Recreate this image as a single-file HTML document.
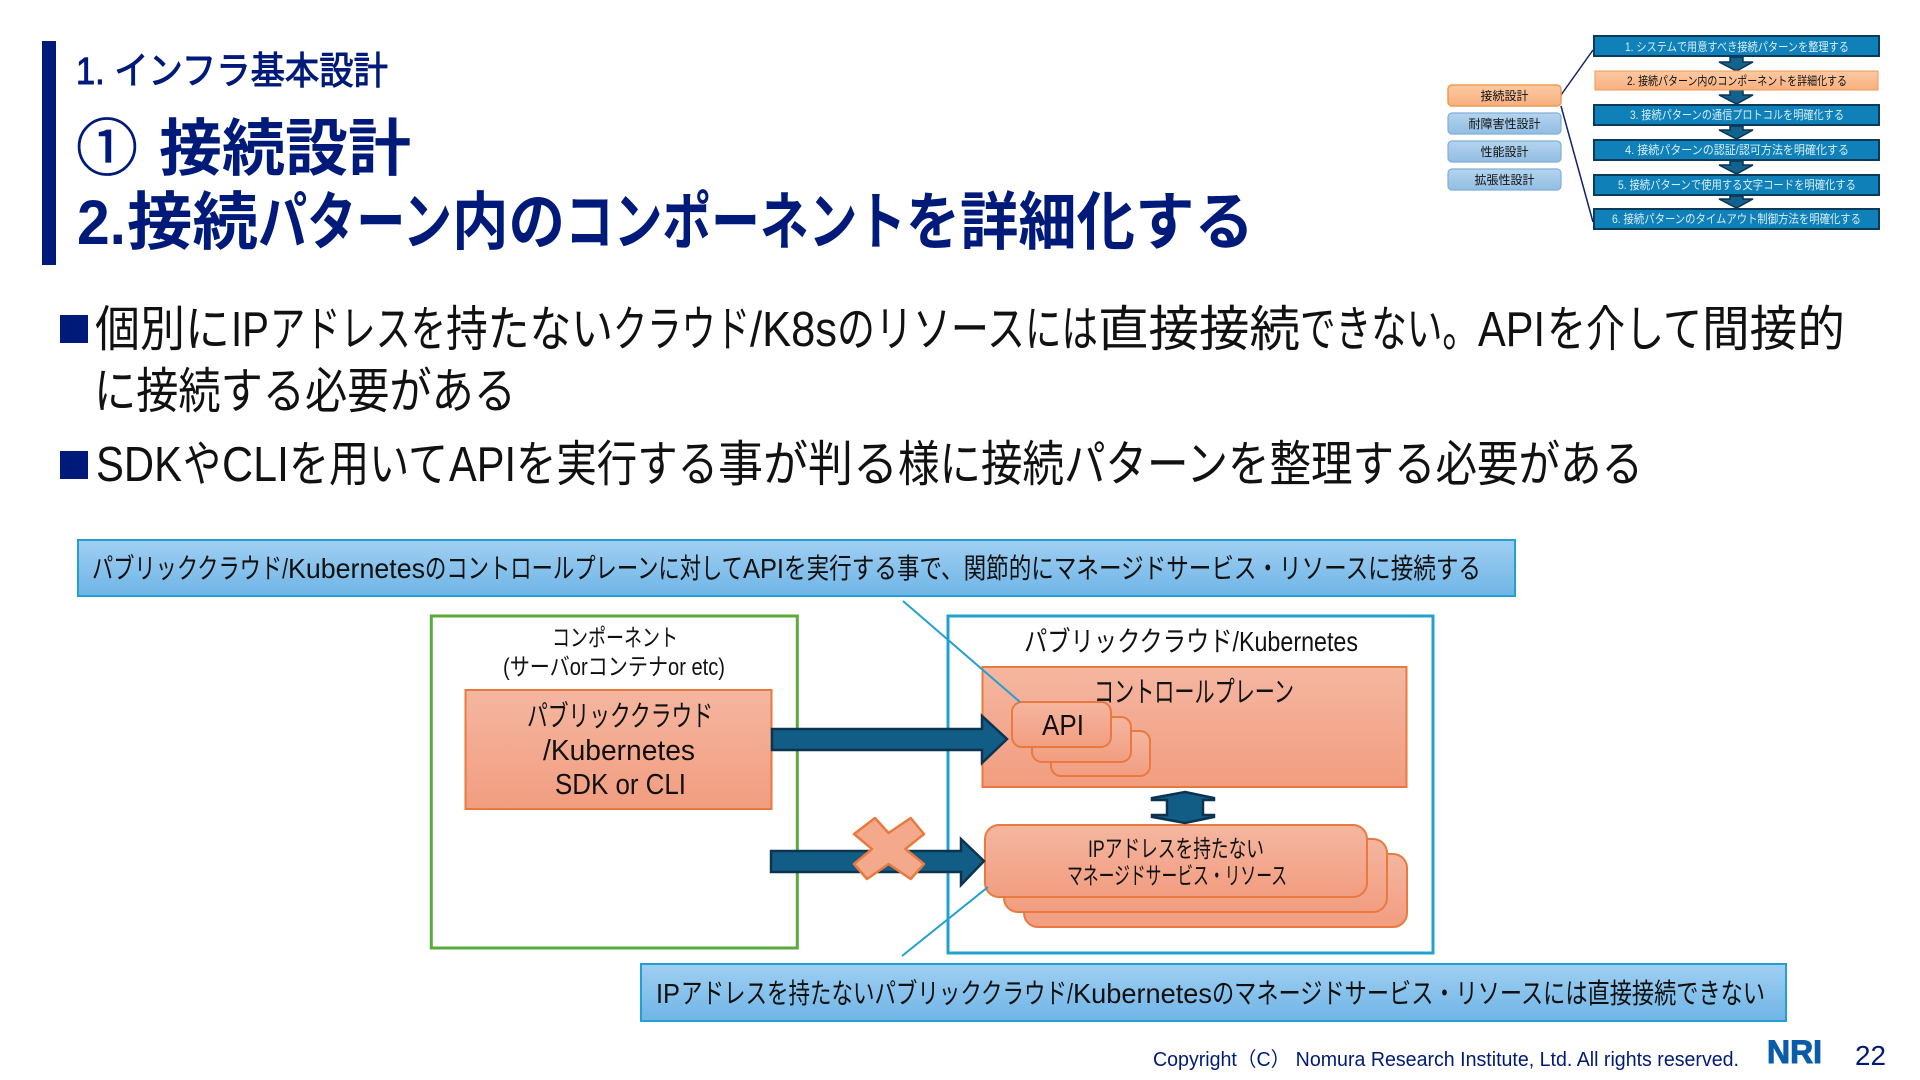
<!DOCTYPE html>
<html lang="ja"><head><meta charset="utf-8"><title>接続設計</title>
<style>
html,body{margin:0;padding:0;background:#fff;width:1920px;height:1080px;overflow:hidden}
svg{display:block}
text{font-family:"Liberation Sans","Noto Sans CJK JP",sans-serif;fill:#111}
.n{fill:#001a7a}
.w{fill:#d8eef8}
.t3{font-size:63px;font-weight:700;fill:#001a7a}
.bd{font-size:49px}
.cl{font-size:28px}
</style></head><body>
<svg width="1920" height="1080" viewBox="0 0 1920 1080" xmlns="http://www.w3.org/2000/svg">
<defs>
<linearGradient id="o" x1="0" y1="0" x2="0" y2="1"><stop offset="0" stop-color="#f4b6a0"/><stop offset="1" stop-color="#f29d80"/></linearGradient>
<linearGradient id="b" x1="0" y1="0" x2="0" y2="1"><stop offset="0" stop-color="#a0cff2"/><stop offset="1" stop-color="#6fb5e6"/></linearGradient>
<linearGradient id="lb" x1="0" y1="0" x2="0" y2="1"><stop offset="0" stop-color="#b4d4ee"/><stop offset="1" stop-color="#92bde2"/></linearGradient>
<linearGradient id="lo" x1="0" y1="0" x2="0" y2="1"><stop offset="0" stop-color="#fbc9a2"/><stop offset="1" stop-color="#f8b080"/></linearGradient>
</defs>

<!-- header -->
<rect x="42" y="41" width="14" height="224" fill="#001a7a"/>
<text class="n" x="76" y="84" font-size="38" textLength="312" lengthAdjust="spacingAndGlyphs" stroke="#001a7a" stroke-width="1">1. インフラ基本設計</text>
<text class="n" x="76" y="170" font-size="62" textLength="62" lengthAdjust="spacingAndGlyphs" stroke="#001a7a" stroke-width=".8">①</text>
<text class="n" x="159" y="170" font-size="62" font-weight="700" textLength="252" lengthAdjust="spacingAndGlyphs">接続設計</text>
<text class="t3" x="77" y="244" textLength="49" lengthAdjust="spacingAndGlyphs">2.</text>
<text class="t3" x="127" y="244" textLength="131" lengthAdjust="spacingAndGlyphs">接続</text>
<text class="t3" x="258" y="244" textLength="194" lengthAdjust="spacingAndGlyphs">パターン</text>
<text class="t3" x="452" y="244" textLength="113" lengthAdjust="spacingAndGlyphs">内の</text>
<text class="t3" x="565" y="244" textLength="341" lengthAdjust="spacingAndGlyphs">コンポーネント</text>
<text class="t3" x="906" y="244" textLength="54" lengthAdjust="spacingAndGlyphs">を</text>
<text class="t3" x="960" y="244" textLength="175" lengthAdjust="spacingAndGlyphs">詳細化</text>
<text class="t3" x="1135" y="244" textLength="119" lengthAdjust="spacingAndGlyphs">する</text>

<!-- thumbnail -->
<g>
<line x1="1561" y1="95" x2="1593" y2="50" stroke="#14206e" stroke-width="1.5"/>
<line x1="1561" y1="106" x2="1593" y2="222" stroke="#14206e" stroke-width="1.5"/>
<rect x="1448" y="85" width="113" height="21" rx="4" fill="url(#lo)" stroke="#f09a50" stroke-width="1.5"/>
<rect x="1448" y="113" width="113" height="21" rx="4" fill="url(#lb)" stroke="#7fb0d8" stroke-width="1.2"/>
<rect x="1448" y="141" width="113" height="21" rx="4" fill="url(#lb)" stroke="#7fb0d8" stroke-width="1.2"/>
<rect x="1448" y="169" width="113" height="21" rx="4" fill="url(#lb)" stroke="#7fb0d8" stroke-width="1.2"/>
<text x="1504.5" y="100" font-size="12" text-anchor="middle">接続設計</text>
<text x="1504.5" y="128" font-size="12" text-anchor="middle">耐障害性設計</text>
<text x="1504.5" y="156" font-size="12" text-anchor="middle">性能設計</text>
<text x="1504.5" y="184" font-size="12" text-anchor="middle">拡張性設計</text>
<g fill="#12628e" stroke="#0b3352" stroke-width="1.5">
<polygon points="1730,57 1743,57 1743,62 1753,62 1736.5,71 1719,62 1730,62"/>
<polygon points="1730,90 1743,90 1743,95 1753,95 1736.5,104 1719,95 1730,95"/>
<polygon points="1730,126 1743,126 1743,130 1753,130 1736.5,139 1719,130 1730,130"/>
<polygon points="1730,161 1743,161 1743,165 1753,165 1736.5,174 1719,165 1730,165"/>
<polygon points="1730,196 1743,196 1743,199 1753,199 1736.5,208 1719,199 1730,199"/>
</g>
<g fill="#0f80b8" stroke="#0b3a5a" stroke-width="2">
<rect x="1594" y="36" width="285" height="20"/>
<rect x="1594" y="105" width="285" height="20"/>
<rect x="1594" y="140" width="285" height="20"/>
<rect x="1594" y="175" width="285" height="20"/>
<rect x="1594" y="209" width="285" height="20"/>
</g>
<rect x="1595" y="71" width="283" height="19" fill="url(#lo)" stroke="#f09a50" stroke-width="1"/>
<text class="w" x="1625" y="51" font-size="12" textLength="224" lengthAdjust="spacingAndGlyphs">1. システムで用意すべき接続パターンを整理する</text>
<text x="1627" y="85" font-size="12" textLength="220" lengthAdjust="spacingAndGlyphs">2. 接続パターン内のコンポーネントを詳細化する</text>
<text class="w" x="1630" y="119" font-size="12" textLength="214" lengthAdjust="spacingAndGlyphs">3. 接続パターンの通信プロトコルを明確化する</text>
<text class="w" x="1625" y="154" font-size="12" textLength="224" lengthAdjust="spacingAndGlyphs">4. 接続パターンの認証/認可方法を明確化する</text>
<text class="w" x="1618" y="189" font-size="12" textLength="238" lengthAdjust="spacingAndGlyphs">5. 接続パターンで使用する文字コードを明確化する</text>
<text class="w" x="1612" y="223" font-size="12" textLength="249" lengthAdjust="spacingAndGlyphs">6. 接続パターンのタイムアウト制御方法を明確化する</text>
</g>

<!-- body -->
<rect x="60" y="315" width="28" height="28" fill="#001a7a"/>
<rect x="60" y="451" width="28" height="28" fill="#001a7a"/>
<g class="bd">
<text class="bd" x="95" y="346" textLength="135" lengthAdjust="spacingAndGlyphs">個別に</text>
<text class="bd" x="231" y="346" textLength="38" lengthAdjust="spacingAndGlyphs">IP</text>
<text class="bd" x="270" y="346" textLength="176" lengthAdjust="spacingAndGlyphs">アドレスを</text>
<text class="bd" x="446" y="346" textLength="167" lengthAdjust="spacingAndGlyphs">持たない</text>
<text class="bd" x="613" y="346" textLength="137" lengthAdjust="spacingAndGlyphs">クラウド</text>
<text class="bd" x="750" y="346" textLength="87" lengthAdjust="spacingAndGlyphs">/K8s</text>
<text class="bd" x="837" y="346" textLength="188" lengthAdjust="spacingAndGlyphs">のリソース</text>
<text class="bd" x="1025" y="346" textLength="73" lengthAdjust="spacingAndGlyphs">には</text>
<text class="bd" x="1098" y="346" textLength="202" lengthAdjust="spacingAndGlyphs">直接接続</text>
<text class="bd" x="1300" y="346" textLength="178" lengthAdjust="spacingAndGlyphs">できない。</text>
<text class="bd" x="1478" y="346" textLength="67" lengthAdjust="spacingAndGlyphs">API</text>
<text class="bd" x="1547" y="346" textLength="155" lengthAdjust="spacingAndGlyphs">を介して</text>
<text class="bd" x="1702" y="346" textLength="143" lengthAdjust="spacingAndGlyphs">間接的</text>
<text class="bd" x="94" y="408" textLength="422" lengthAdjust="spacingAndGlyphs">に接続する必要がある</text>
<text class="bd" x="96" y="481" textLength="86" lengthAdjust="spacingAndGlyphs">SDK</text>
<text class="bd" x="183" y="481" textLength="38" lengthAdjust="spacingAndGlyphs">や</text>
<text class="bd" x="222" y="481" textLength="67" lengthAdjust="spacingAndGlyphs">CLI</text>
<text class="bd" x="289" y="481" textLength="159" lengthAdjust="spacingAndGlyphs">を用いて</text>
<text class="bd" x="449" y="481" textLength="67" lengthAdjust="spacingAndGlyphs">API</text>
<text class="bd" x="516" y="481" textLength="202" lengthAdjust="spacingAndGlyphs">を実行する</text>
<text class="bd" x="718" y="481" textLength="180" lengthAdjust="spacingAndGlyphs">事が判る</text>
<text class="bd" x="898" y="481" textLength="745" lengthAdjust="spacingAndGlyphs">様に接続パターンを整理する必要がある</text>
</g>

<!-- top callout -->
<rect x="78" y="540" width="1437" height="56" fill="url(#b)" stroke="#22a0d0" stroke-width="2"/>
<text class="cl" x="92" y="578" textLength="196" lengthAdjust="spacingAndGlyphs">パブリッククラウド/</text>
<text class="cl" x="288" y="578" textLength="137" lengthAdjust="spacingAndGlyphs">Kubernetes</text>
<text class="cl" x="425" y="578" textLength="318" lengthAdjust="spacingAndGlyphs">のコントロールプレーンに対して</text>
<text class="cl" x="743" y="578" textLength="41" lengthAdjust="spacingAndGlyphs">API</text>
<text class="cl" x="784" y="578" textLength="697" lengthAdjust="spacingAndGlyphs">を実行する事で、関節的にマネージドサービス・リソースに接続する</text>

<!-- left box -->
<rect x="431.3" y="616" width="366" height="332" fill="#fff" stroke="#5aab3a" stroke-width="3"/>
<text x="615" y="646" font-size="24" text-anchor="middle" textLength="126" lengthAdjust="spacingAndGlyphs">コンポーネント</text>
<text x="503" y="675" font-size="24" textLength="222" lengthAdjust="spacingAndGlyphs">(サーバorコンテナor etc)</text>
<rect x="465.5" y="690" width="306" height="119" fill="url(#o)" stroke="#e97a3f" stroke-width="2"/>
<text x="527" y="726" font-size="29" textLength="186" lengthAdjust="spacingAndGlyphs">パブリッククラウド</text>
<text x="543" y="760" font-size="29" textLength="152" lengthAdjust="spacingAndGlyphs">/Kubernetes</text>
<text x="555" y="794" font-size="29" textLength="131" lengthAdjust="spacingAndGlyphs">SDK or CLI</text>

<!-- right box -->
<rect x="948" y="616" width="485" height="337" fill="#fff" stroke="#22a0d0" stroke-width="3"/>
<text x="1024" y="651" font-size="28" textLength="334" lengthAdjust="spacingAndGlyphs">パブリッククラウド/Kubernetes</text>
<rect x="982.5" y="667" width="424" height="120" fill="url(#o)" stroke="#e97a3f" stroke-width="2"/>
<text x="1094" y="702" font-size="29" textLength="200" lengthAdjust="spacingAndGlyphs">コントロールプレーン</text>
<g fill="url(#o)" stroke="#e97a3f" stroke-width="2">
<rect x="1051" y="731" width="99" height="45" rx="10"/>
<rect x="1032" y="717" width="99" height="45" rx="10"/>
<rect x="1012" y="702" width="99" height="45" rx="10"/>
<rect x="1024" y="854" width="383" height="73" rx="14"/>
<rect x="1004" y="839" width="383" height="73" rx="14"/>
<rect x="985" y="825" width="382" height="72" rx="14"/>
</g>
<text x="1042" y="735" font-size="29" textLength="42" lengthAdjust="spacingAndGlyphs">API</text>
<text x="1088" y="857" font-size="24" textLength="176" lengthAdjust="spacingAndGlyphs">IPアドレスを持たない</text>
<text x="1067" y="884" font-size="24" textLength="220" lengthAdjust="spacingAndGlyphs">マネージドサービス・リソース</text>

<!-- arrows -->
<g fill="#125d85" stroke="#0c3350" stroke-width="2.5">
<polygon points="772,729 982,729 982,716 1007,739 982,763 982,750 772,750"/>
<polygon points="771,851 961,851 961,839 984,861 961,885 961,872 771,872"/>
<polygon points="1185,792 1214,798 1214,800 1203,800 1203,815 1214,815 1214,817 1185,823 1152,817 1152,815 1167,815 1167,800 1152,800 1152,798"/>
</g>
<polygon points="875,818 888.6,833 910.7,818 924,834 905.4,849 924,864 910.7,879 888.6,864 867,879 854,864 872,849 854,834" fill="#f4a98c" stroke="#e97a3f" stroke-width="2.5" stroke-linejoin="round"/>

<!-- leader lines -->
<line x1="903" y1="601" x2="1020" y2="702" stroke="#22a0d0" stroke-width="2"/>
<line x1="902" y1="956" x2="988" y2="887" stroke="#22a0d0" stroke-width="2"/>

<!-- bottom callout -->
<rect x="641" y="964" width="1145" height="57" fill="url(#b)" stroke="#22a0d0" stroke-width="2"/>
<text class="cl" x="656" y="1003" textLength="24" lengthAdjust="spacingAndGlyphs">IP</text>
<text class="cl" x="681" y="1003" textLength="392" lengthAdjust="spacingAndGlyphs">アドレスを持たないパブリッククラウド/</text>
<text class="cl" x="1073" y="1003" textLength="139" lengthAdjust="spacingAndGlyphs">Kubernetes</text>
<text class="cl" x="1212" y="1003" textLength="553" lengthAdjust="spacingAndGlyphs">のマネージドサービス・リソースには直接接続できない</text>

<!-- footer -->
<text class="n" x="1153" y="1066" font-size="20" textLength="586" lengthAdjust="spacingAndGlyphs">Copyright（C） Nomura Research Institute, Ltd. All rights reserved.</text>
<text x="1767" y="1063" font-size="32" font-weight="700" textLength="55" lengthAdjust="spacingAndGlyphs" style="fill:#0a5ca8" stroke="#0a5ca8" stroke-width="1">NRI</text>
<text class="n" x="1855" y="1065" font-size="28" textLength="31" lengthAdjust="spacingAndGlyphs">22</text>
</svg>
</body></html>
